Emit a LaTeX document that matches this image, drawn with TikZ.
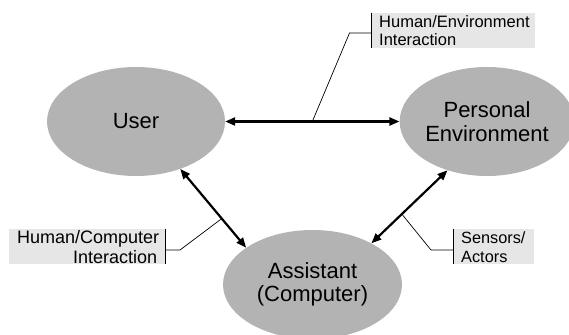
\documentclass[tikz,border=0pt]{standalone}
\usepackage{fontspec}
\setmainfont{Liberation Sans}
\usetikzlibrary{shapes.geometric,arrows.meta}
\definecolor{blobgray}{HTML}{B3B3B3}
\definecolor{tagfill}{HTML}{E6E6E6}

\begin{document}
\begin{tikzpicture}[x=1pt,y=1pt,
  blob/.style={ellipse,fill=blobgray,inner sep=0pt,align=center,
    minimum height=109pt,font=\fontsize{22}{23.5}\selectfont},
  link/.style={line width=2.2pt,
    {Triangle[length=10pt,width=8pt]}-{Triangle[length=10pt,width=8pt]}},
  tag/.style={fill=tagfill,inner xsep=8pt,inner ysep=0pt,
    minimum height=35pt,anchor=north west},
  leader/.style={line width=0.7pt},
  tagbar/.style={line width=1pt}]
\useasboundingbox (0,0) rectangle (569,-334);
\clip (0,0) rectangle (569,-334);

% the three parties
\node[blob,minimum width=178pt] (user) at (136,-121.5) {User};
\node[blob,minimum width=172pt] (pers) at (487,-121.5) {Personal\\Environment};
\node[blob,minimum width=179pt] (asst) at (312.5,-284.5) {Assistant\\(Computer)};

% interactions between them
\draw[link] (user.0) -- coordinate[pos=0.5] (heFoot) (pers.180);
\draw[link] (user.-47) -- coordinate[pos=0.63] (hcFoot) (asst.151);
\draw[link] (pers.231) -- coordinate[pos=0.6] (saFoot) (asst.35);

% labels
\node[tag,text width=148pt,align=left,font=\fontsize{16.5}{17.6}\selectfont]
  (he) at (371,-12.7) {Human/Environment\\Interaction};
\node[tag,text width=140pt,align=right,font=\fontsize{18}{20}\selectfont]
  (hc) at (9,-229) {Human/Computer\\Interaction};
\node[tag,text width=65pt,align=left,font=\fontsize{16.3}{19}\selectfont]
  (sa) at (453,-229) {Sensors/\\Actors};

\draw[tagbar] (he.north west) -- (he.south west);
\draw[tagbar] (hc.north east) -- (hc.south east);
\draw[tagbar] (sa.north west) -- (sa.south west);

% leader lines from labels to the interactions
\coordinate (heBend) at (349.5,-33);
\coordinate (hcBend) at (180,-250);
\coordinate (saBend) at (431,-250);
\draw[leader] (heFoot) -- (heBend) -- (heBend -| he.west);
\draw[leader] (hcFoot) -- (hcBend) -- (hcBend -| hc.east);
\draw[leader] (saFoot) -- (saBend) -- (saBend -| sa.west);
\end{tikzpicture}
\end{document}
